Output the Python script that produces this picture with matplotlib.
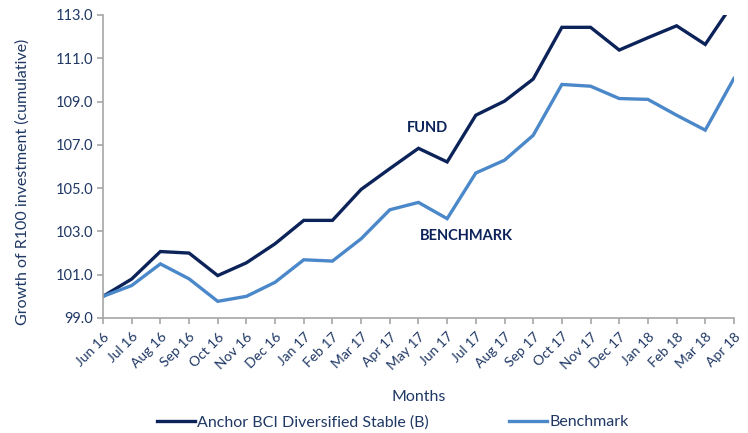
import matplotlib
matplotlib.use("Agg")
import matplotlib.pyplot as plt

months = ["Jun 16", "Jul 16", "Aug 16", "Sep 16", "Oct 16", "Nov 16", "Dec 16",
          "Jan 17", "Feb 17", "Mar 17", "Apr 17", "May 17", "Jun 17", "Jul 17",
          "Aug 17", "Sep 17", "Oct 17", "Nov 17", "Dec 17", "Jan 18", "Feb 18",
          "Mar 18", "Apr 18"]
fund = [100.0, 100.8, 102.07, 102.0, 100.96, 101.55, 102.43, 103.51, 103.51,
        104.94, 105.9, 106.84, 106.21, 108.37, 109.02, 110.04, 112.43, 112.43,
        111.38, 111.95, 112.5, 111.64, 113.6]
benchmark = [100.0, 100.5, 101.5, 100.81, 99.77, 100.0, 100.65, 101.69, 101.63,
             102.66, 104.0, 104.34, 103.59, 105.7, 106.29, 107.44, 109.79, 109.71,
             109.14, 109.1, 108.37, 107.68, 110.07]
yticks = [99.0, 101.0, 103.0, 105.0, 107.0, 109.0, 111.0, 113.0]

navy = "#0c2359"
light = "#4a88c9"
text_col = "#1f3864"
grey = "#a6a6a6"

plt.rcParams['font.family'] = ['Lato', 'DejaVu Sans']

fig = plt.figure(figsize=(7.48, 4.33), dpi=100)
ax = fig.add_axes([0.1377, 0.2656, 0.8435, 0.6998])

x = list(range(len(months)))
l1, = ax.plot(x, fund, color=navy, lw=2.4, solid_joinstyle='miter',
              label="Anchor BCI Diversified Stable (B)")
l2, = ax.plot(x, benchmark, color=light, lw=2.4, solid_joinstyle='miter',
              label="Benchmark")

ax.set_xlim(0, len(months) - 1)
ax.set_ylim(99, 113)
ax.set_yticks(yticks)
ax.set_yticklabels([f"{v:.1f}" for v in yticks])
ax.set_xticks(x)
ax.set_xticklabels(months, rotation=45, ha='right', rotation_mode='anchor')

for s in ['top', 'right']:
    ax.spines[s].set_visible(False)
for s in ['left', 'bottom']:
    ax.spines[s].set_color(grey)
    ax.spines[s].set_linewidth(1.2)
ax.tick_params(axis='both', colors=grey, length=4, width=1.2, direction='out')
ax.tick_params(axis='y', labelcolor=text_col, labelsize=10.5, pad=3)
ax.tick_params(axis='x', labelcolor=text_col, labelsize=10, pad=5)

ax.set_xlabel("Months", color=text_col, fontsize=11.5, labelpad=13)
# y label sits a bit lower than the axes centre in the original
fig.text(0.030, 0.58, "Growth of R100 investment (cumulative)", color=text_col,
         fontsize=11.5, rotation=90, ha='center', va='center')

ax.text(11.3, 107.8, "FUND", color=navy, fontsize=10.5, fontweight='bold',
        ha='center', va='center')
ax.text(12.66, 102.8, "BENCHMARK", color=navy, fontsize=10.5, fontweight='bold',
        ha='center', va='center')

fig.legend(handles=[l1, l2], loc='center', bbox_to_anchor=(0.525, 0.025),
           ncol=2, frameon=False, fontsize=11.5, handlelength=2.4,
           handletextpad=0.15, columnspacing=5, labelcolor=text_col)

fig.savefig("out.png", dpi=100)
